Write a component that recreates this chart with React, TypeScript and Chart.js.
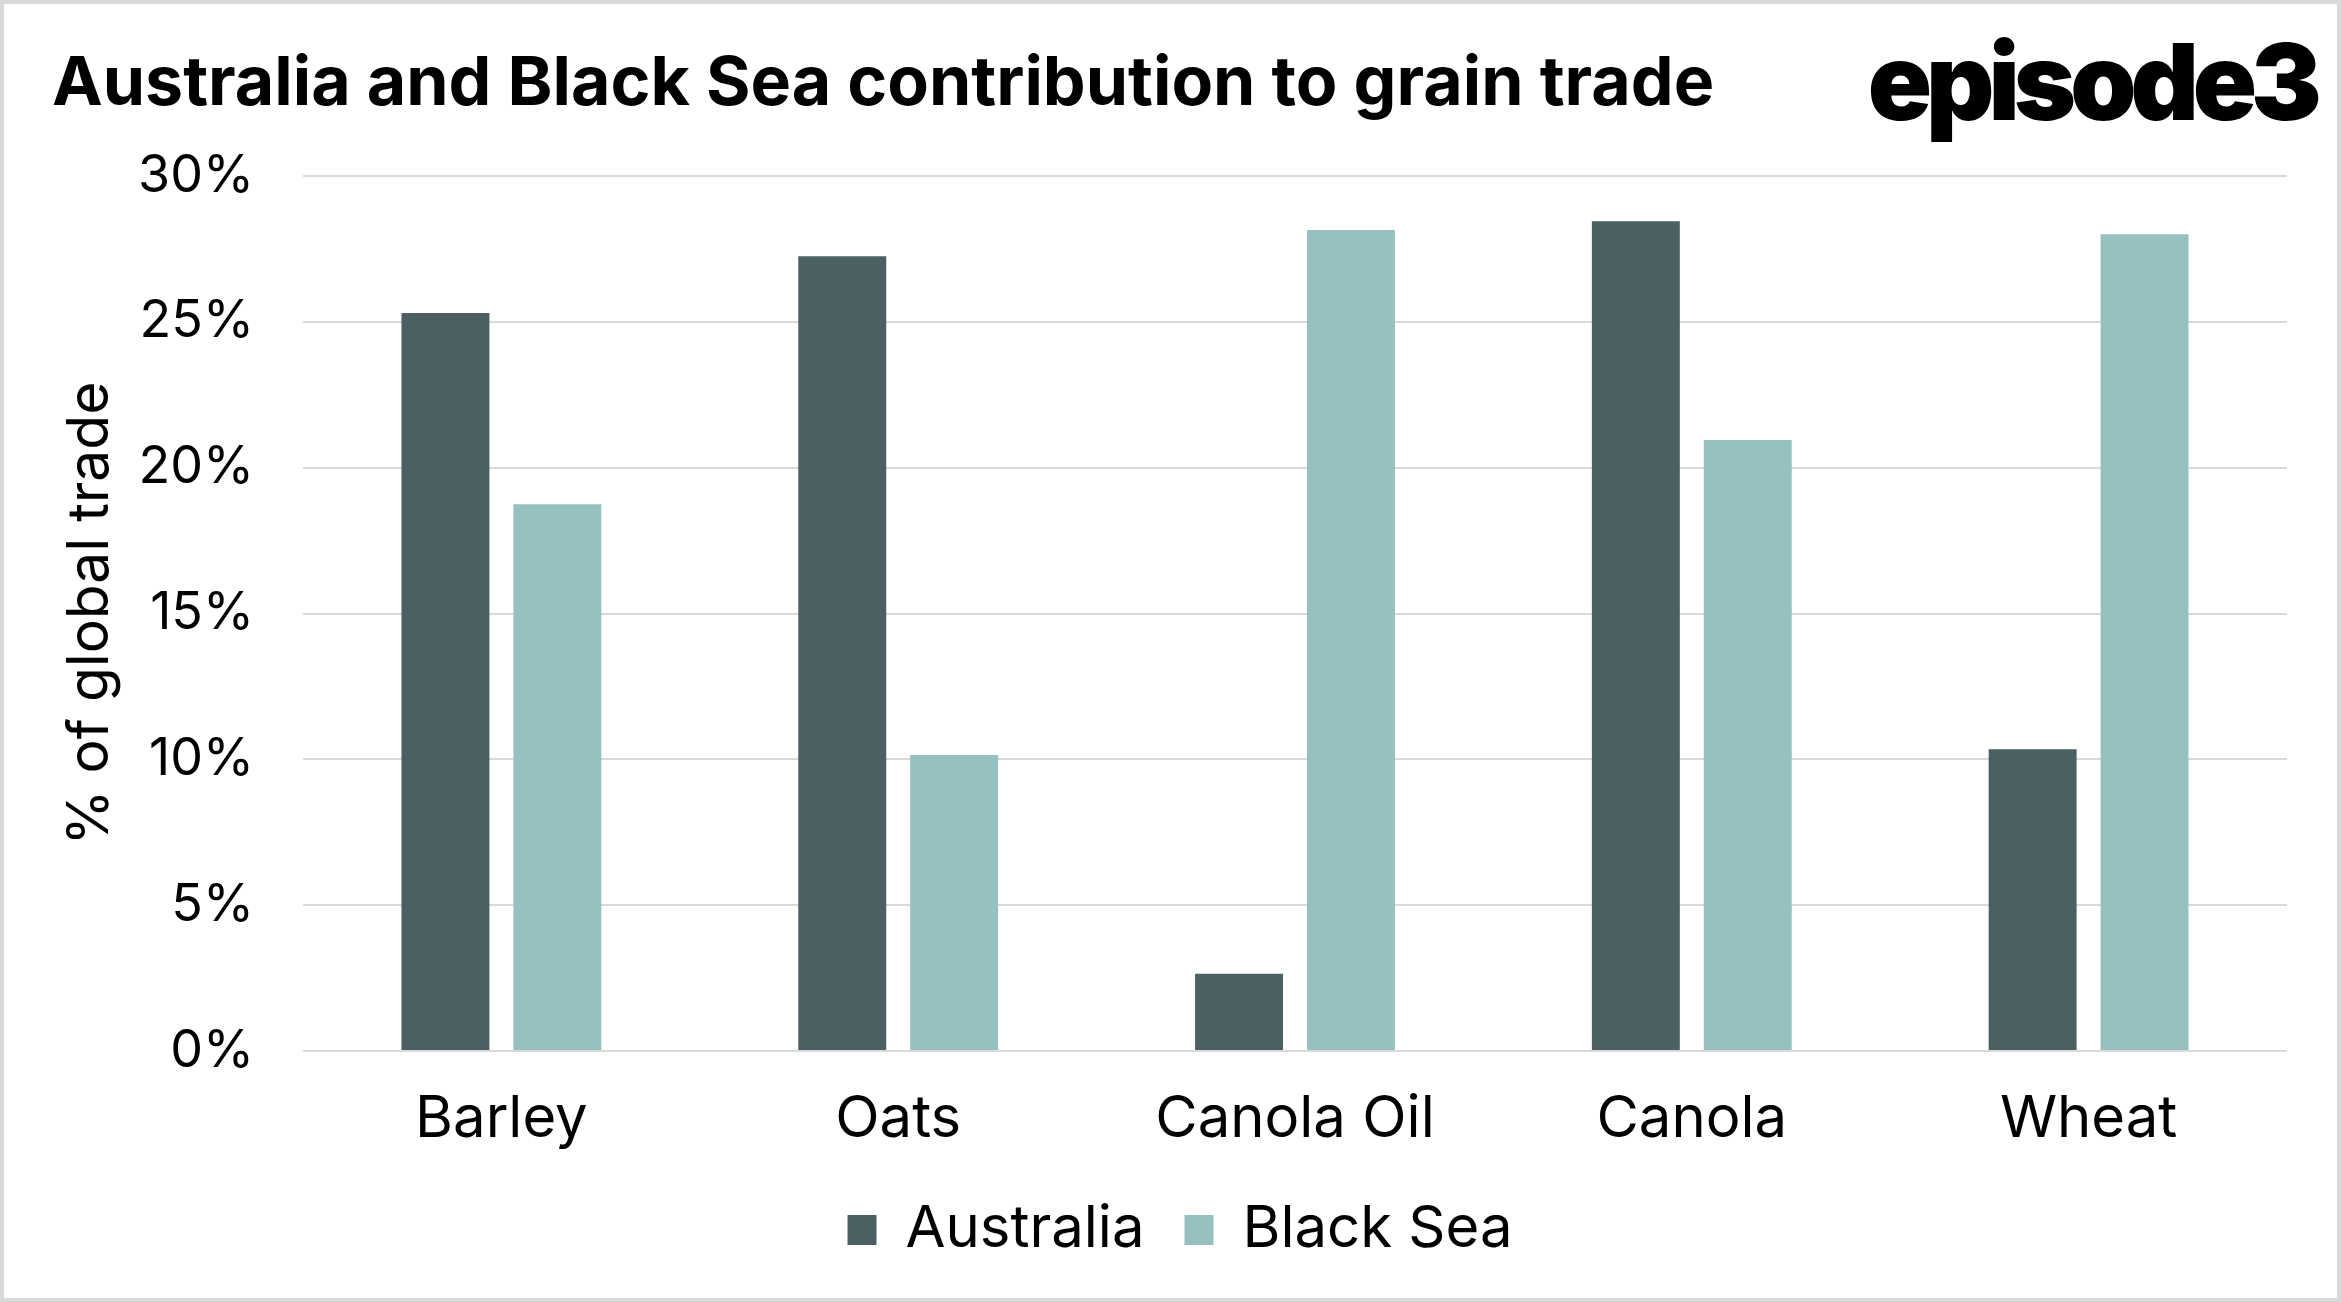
import { useEffect, useRef } from 'react';
import { Chart, registerables } from 'chart.js';

Chart.register(...registerables);

const categories = ['Barley', 'Oats', 'Canola Oil', 'Canola', 'Wheat'];
const australia = [25.3, 27.25, 2.65, 28.45, 10.35];
const blackSea = [18.75, 10.15, 28.15, 20.95, 28.0];

const W = 2341;
const H = 1302;
const FONT = 'Inter, "Noto Sans", sans-serif';
const PAD_LEFT = 73;

// border, title, logo and the rotated y title are painted by hand
const decorations = {
  id: 'decorations',
  beforeDraw(chart: Chart) {
    const ctx = chart.ctx;
    ctx.save();
    ctx.fillStyle = '#ffffff';
    ctx.fillRect(0, 0, W, H);
    ctx.strokeStyle = '#d9d9d9';
    ctx.lineWidth = 4;
    ctx.strokeRect(2, 2, W - 4, H - 4);
    ctx.restore();
  },
  afterDraw(chart: Chart) {
    const ctx = chart.ctx;
    ctx.save();
    ctx.fillStyle = '#000';
    ctx.textBaseline = 'alphabetic';

    ctx.font = `700 68px ${FONT}`;
    ctx.textAlign = 'left';
    ctx.fillText('Australia and Black Sea contribution to grain trade', 52, 105);

    ctx.font = `900 106px ${FONT}`;
    ctx.textAlign = 'right';
    (ctx as any).letterSpacing = '-6px';
    ctx.fillText('episode3', 2316, 120);
    (ctx as any).letterSpacing = '0px';

    const area = chart.chartArea;
    ctx.translate(108, (area.top + area.bottom) / 2);
    ctx.rotate(-Math.PI / 2);
    ctx.textAlign = 'center';
    ctx.font = `400 57px ${FONT}`;
    ctx.fillText('% of global trade', 0, 0);
    ctx.restore();
  },
};

function GrainChart() {
  const canvasRef = useRef<HTMLCanvasElement | null>(null);
  const chartRef = useRef<Chart | null>(null);

  useEffect(() => {
    if (!canvasRef.current) return;
    if (chartRef.current) chartRef.current.destroy();

    chartRef.current = new Chart(canvasRef.current, {
      type: 'bar',
      data: {
        labels: categories,
        datasets: [
          {
            label: 'Australia',
            data: australia,
            backgroundColor: '#4c5f63',
            categoryPercentage: 0.564,
            barPercentage: 0.786,
          },
          {
            label: 'Black Sea',
            data: blackSea,
            backgroundColor: '#97c1c0',
            categoryPercentage: 0.564,
            barPercentage: 0.786,
          },
        ],
      },
      options: {
        animation: false,
        responsive: false,
        devicePixelRatio: 1,
        layout: { padding: { top: 176, right: 54, left: PAD_LEFT, bottom: 33 } },
        plugins: {
          title: { display: false },
          tooltip: { enabled: false },
          legend: {
            position: 'bottom',
            labels: {
              color: '#000',
              font: { family: FONT, size: 58 },
              boxWidth: 29,
              boxHeight: 30,
              padding: 40,
            },
          },
        },
        scales: {
          x: {
            grid: { display: false },
            border: { display: false },
            ticks: { color: '#000', font: { family: FONT, size: 58 }, padding: 26 },
            afterFit: (scale: any) => {
              scale.height = 110;
            },
          },
          y: {
            min: 0,
            max: 30,
            grid: { color: '#d9d9d9', lineWidth: 2, drawTicks: false },
            border: { display: false },
            ticks: {
              stepSize: 5,
              color: '#000',
              padding: 49,
              font: { family: FONT, size: 52 },
              callback: (v: any) => `${v}%`,
            },
            afterFit: (scale: any) => {
              scale.width = 303 - PAD_LEFT;
            },
          },
        },
      },
      plugins: [decorations],
    });

    return () => {
      if (chartRef.current) {
        chartRef.current.destroy();
        chartRef.current = null;
      }
    };
  }, []);

  return <canvas ref={canvasRef} width={W} height={H} style={{ display: 'block', width: W, height: H }} />;
}

export default function App() {
  useEffect(() => {
    document.body.style.margin = '0';
    document.body.style.overflow = 'hidden';
  }, []);
  return <GrainChart />;
}
